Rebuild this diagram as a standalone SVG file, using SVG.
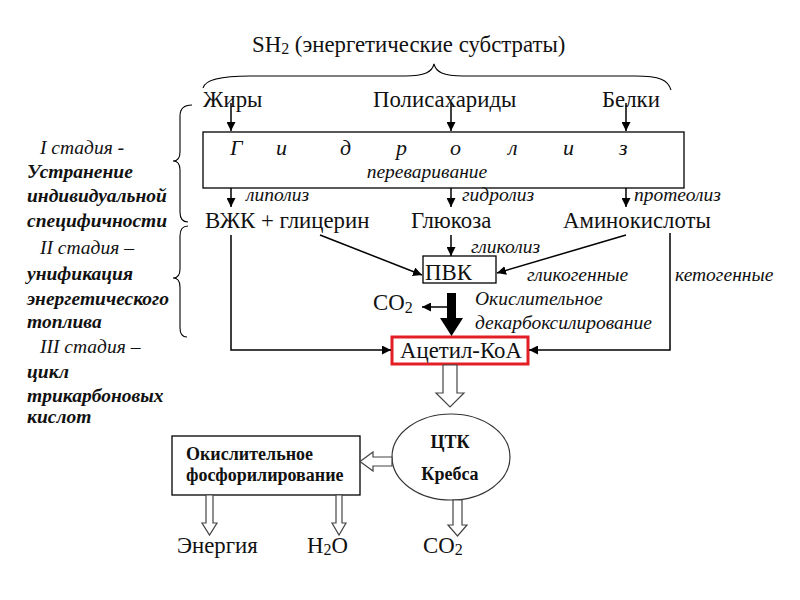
<svg xmlns="http://www.w3.org/2000/svg" width="800" height="600" viewBox="0 0 800 600">
<defs>
<marker id="ah" viewBox="0 0 10 10" refX="10" refY="5" markerWidth="9" markerHeight="9" markerUnits="userSpaceOnUse" orient="auto">
<path d="M0,0 L10,5 L0,10 z" fill="#000"/>
</marker>
<style>
text{font-family:"Liberation Serif","Times New Roman","DejaVu Serif",serif;fill:#111}
.n{font-size:22.8px}
.it{font-style:italic;font-size:19.5px}
.big{font-style:italic;font-size:22px}
.st{font-style:italic;font-weight:bold;font-size:19.5px}
.stg{font-style:italic;font-size:19.5px}
.b{font-weight:bold;font-size:18px}
.ln{stroke:#000;stroke-width:1.5;fill:none}
.bx{stroke:#000;stroke-width:1.3;fill:#fff}
.br{stroke:#000;stroke-width:1.1;fill:none}
.ha{fill:#fff;stroke:#444;stroke-width:1.2}
</style>
</defs>
<rect width="800" height="600" fill="#fff"/>

<g id="title" font-family="Liberation Serif, serif">
<text class="n" x="252" y="52">SH<tspan font-size="16" dy="2">2</tspan><tspan dy="-2"> (энергетические субстраты)</tspan></text>
<path class="br" d="M203,88 C205,79 222,76 250,76 L405,76 C425,76 432,72 434,64 C436,72 443,76 463,76 L635,76 C660,76 668,80 671,90"/>
</g>

<g id="stages" font-family="Liberation Serif, serif">
<path class="br" d="M192,105 C184,105 180,108 180,116 L180,152 C180,158 177,161 173,161 C177,161 180,164 180,170 L180,212 C180,219 183,222 188,222"/>
<path class="br" d="M188,226 C183,226 180,229 180,236 L180,269 C180,275 177,278 173,278 C177,278 180,281 180,287 L180,328 C180,334 183,337 187,337"/>
<text class="stg" x="40" y="154">I стадия <tspan font-weight="bold">-</tspan></text>
<text class="st" x="27" y="178">Устранение</text>
<text class="st" x="27" y="202">индивидуальной</text>
<text class="st" x="27" y="227">специфичности</text>
<text class="stg" x="40" y="254">II стадия –</text>
<text class="st" x="27" y="280">унификация</text>
<text class="st" x="27" y="305">энергетического</text>
<text class="st" x="27" y="328">топлива</text>
<text class="stg" x="40" y="353">III стадия –</text>
<text class="st" x="27" y="378">цикл</text>
<text class="st" x="27" y="402">трикарбоновых</text>
<text class="st" x="27" y="423">кислот</text>
</g>

<g id="substrates" font-family="Liberation Serif, serif">
<text class="n" x="203" y="107">Жиры</text>
<text class="n" x="373" y="107">Полисахариды</text>
<text class="n" x="602" y="107">Белки</text>
</g>

<g id="hydrolysis" font-family="Liberation Serif, serif">
<rect class="bx" x="203" y="132" width="481" height="56"/>
<text class="big"><tspan x="230" y="155">Г</tspan><tspan x="276" y="155">и</tspan><tspan x="340" y="155">д</tspan><tspan x="396" y="155">р</tspan><tspan x="450" y="155">о</tspan><tspan x="508" y="155">л</tspan><tspan x="563" y="155">и</tspan><tspan x="619" y="155">з</tspan></text>
<text class="it" x="427" y="178" text-anchor="middle">переваривание</text>
</g>

<g id="products" font-family="Liberation Serif, serif">
<text class="it" x="246" y="201">липолиз</text>
<text class="it" x="462" y="201">гидролиз</text>
<text class="it" x="634" y="201">протеолиз</text>
<text class="n" x="205" y="228">ВЖК + глицерин</text>
<text class="n" x="411" y="228">Глюкоза</text>
<text class="n" x="563" y="228">Аминокислоты</text>
</g>

<g id="pvk" font-family="Liberation Serif, serif">
<rect class="bx" x="423" y="256" width="73" height="27"/>
<text class="n" x="425" y="280">ПВК</text>
<text class="it" x="471" y="253">гликолиз</text>
<text class="it" x="527" y="281">гликогенные</text>
<text class="it" x="675" y="281">кетогенные</text>
</g>

<g id="decarb" font-family="Liberation Serif, serif">
<text class="n" x="373" y="310">CO<tspan font-size="16" dy="3">2</tspan></text>
<text class="it" x="475" y="305">Окислительное</text>
<text class="it" x="475" y="329">декарбоксилирование</text>
</g>

<g id="acetyl" font-family="Liberation Serif, serif">
<rect x="392" y="337" width="136" height="27" fill="#fff" stroke="#e31e24" stroke-width="3"/>
<text class="n" x="400" y="358">Ацетил-КоА</text>
</g>

<g id="krebs" font-family="Liberation Serif, serif">
<ellipse cx="451" cy="457" rx="59" ry="43" fill="#fff" stroke="#333" stroke-width="1.2"/>
<text class="b" x="450" y="448" text-anchor="middle">ЦТК</text>
<text class="b" x="450" y="480" text-anchor="middle">Кребса</text>
</g>

<g id="oxphos" font-family="Liberation Serif, serif">
<rect class="bx" x="172" y="436" width="188" height="59"/>
<text class="b" x="186" y="460">Окислительное</text>
<text class="b" x="186" y="481">фосфорилирование</text>
</g>

<g id="outputs" font-family="Liberation Serif, serif">
<text class="n" x="177" y="553">Энергия</text>
<text class="n" x="307" y="553">H<tspan font-size="16" dy="2">2</tspan><tspan dy="-2">O</tspan></text>
<text class="n" x="423" y="553">CO<tspan font-size="16" dy="2">2</tspan></text>
</g>

<g id="connectors">
<line class="ln" x1="231" y1="103" x2="231" y2="131" marker-end="url(#ah)"/>
<line class="ln" x1="451" y1="103" x2="451" y2="131" marker-end="url(#ah)"/>
<line class="ln" x1="626" y1="103" x2="626" y2="131" marker-end="url(#ah)"/>
<line class="ln" x1="231" y1="188" x2="231" y2="207" marker-end="url(#ah)"/>
<line class="ln" x1="451" y1="188" x2="451" y2="207" marker-end="url(#ah)"/>
<line class="ln" x1="626" y1="188" x2="626" y2="207" marker-end="url(#ah)"/>
<line class="ln" x1="451" y1="235" x2="451" y2="256" marker-end="url(#ah)"/>
<line class="ln" x1="320" y1="235" x2="422" y2="275" marker-end="url(#ah)"/>
<line class="ln" x1="626" y1="235" x2="497" y2="273" marker-end="url(#ah)"/>
<polyline class="ln" points="231,235 231,350 391,350" marker-end="url(#ah)"/>
<polyline class="ln" points="670,233 670,350 529,350" marker-end="url(#ah)"/>
<polygon points="447,293 456,293 456,318 463,318 451.5,336 440,318 447,318" fill="#000"/>
<line class="ln" x1="452" y1="307" x2="422" y2="307" marker-end="url(#ah)"/>
<polygon class="ha" points="443,365 457,365 457,393 464,393 450,407 436,393 443,393"/>
<polygon class="ha" points="392,457 373,457 373,452 360,461.5 373,471 373,466 392,466"/>
<polygon class="ha" points="206,495 213,495 213,523 217,523 209.5,535 202,523 206,523"/>
<polygon class="ha" points="336,495 342,495 342,523 346,523 339,535 332,523 336,523"/>
<polygon class="ha" points="453,500 462,500 462,525 467,525 457.5,536 448,525 453,525"/>
</g>
</svg>
